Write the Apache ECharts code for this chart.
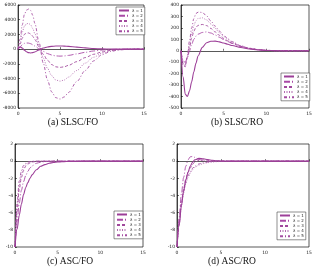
<!DOCTYPE html>
<html>
<head>
<meta charset="utf-8">
<script src="https://cdn.jsdelivr.net/npm/echarts@6/dist/echarts.min.js"></script>
<style>
  html, body { margin: 0; padding: 0; background: #fff; }
  #chart { width: 316px; height: 268px; }
</style>
</head>
<body>
<div id="chart"></div>
<script>
// shared time samples (x axis, 0..15)
const xs = [0, 0.25, 0.5, 0.75, 1, 1.25, 1.5, 1.75, 2, 2.5, 3, 3.5, 4, 4.5, 5, 5.5, 6, 7, 8, 9, 10, 11, 12, 13, 14, 15];

const names = ['λ = 1', 'λ = 2', 'λ = 3', 'λ = 4', 'λ = 5'];
const captions = ['(a) SLSC/FO', '(b) SLSC/RO', '(c) ASC/FO', '(d) ASC/RO'];

// (a) SLSC/FO
const slscFo = [
    [0, 300, 150, -150, -350, -480, -520, -480, -380, -100, 150, 300, 380, 420, 430, 410, 380, 280, 170, 80, 30, 10, 0, 0, 0, 0],
    [0, 300, 600, 780, 840, 820, 740, 600, 420, 50, -300, -600, -800, -920, -950, -920, -850, -650, -430, -250, -120, -50, -15, 0, 0, 0],
    [0, 700, 1500, 2000, 2200, 2200, 2050, 1750, 1300, 300, -700, -1500, -2100, -2400, -2480, -2400, -2200, -1700, -1150, -700, -380, -170, -60, -15, 0, 0],
    [0, 1000, 2300, 3100, 3450, 3500, 3300, 2800, 2100, 500, -1200, -2600, -3600, -4200, -4350, -4200, -3800, -2900, -1900, -1100, -550, -230, -80, -20, 0, 0],
    [0, 1400, 3300, 4700, 5300, 5450, 5250, 4600, 3500, 900, -1900, -4200, -5800, -6600, -6780, -6500, -5900, -4400, -2900, -1600, -750, -320, -110, -30, 0, 0]
];

// (b) SLSC/RO
const slscRo = [
    [0, -230, -380, -400, -350, -270, -185, -110, -45, 30, 70, 83, 84, 78, 68, 57, 46, 28, 15, 7, 3, 1, 0, 0, 0, 0],
    [0, -90, -100, -60, 0, 55, 100, 128, 145, 160, 165, 155, 138, 118, 98, 80, 64, 38, 20, 10, 4, 1, 0, 0, 0, 0],
    [0, -110, -120, -60, 30, 110, 170, 205, 222, 230, 220, 195, 165, 135, 108, 85, 66, 38, 20, 10, 4, 1, 0, 0, 0, 0],
    [0, -120, -130, -50, 60, 150, 220, 262, 282, 288, 270, 235, 195, 158, 125, 97, 75, 42, 22, 11, 4, 1, 0, 0, 0, 0],
    [0, -130, -140, -40, 90, 200, 280, 325, 338, 335, 305, 260, 215, 172, 135, 104, 80, 44, 23, 11, 4, 1, 0, 0, 0, 0]
];

// (c) ASC/FO
const ascFo = [
    [-10, -7.9, -6.3, -5.0, -3.9, -3.1, -2.5, -2.0, -1.6, -1.0, -0.6, -0.4, -0.25, -0.15, -0.1, -0.06, -0.04, -0.02, 0, 0, 0, 0, 0, 0, 0, 0],
    [-10, -7.0, -4.9, -3.4, -2.4, -1.7, -1.2, -0.8, -0.55, -0.25, -0.12, -0.05, -0.02, 0, 0, 0, 0, 0, 0, 0, 0, 0, 0, 0, 0, 0],
    [-10, -5.8, -3.3, -1.9, -1.1, -0.6, -0.35, -0.2, -0.1, -0.03, 0, 0, 0, 0, 0, 0, 0, 0, 0, 0, 0, 0, 0, 0, 0, 0],
    [-10, -5.3, -2.8, -1.5, -0.8, -0.4, -0.2, -0.1, -0.05, 0, 0, 0, 0, 0, 0, 0, 0, 0, 0, 0, 0, 0, 0, 0, 0, 0],
    [-10, -4.8, -2.3, -1.1, -0.5, -0.25, -0.1, -0.05, 0, 0, 0, 0, 0, 0, 0, 0, 0, 0, 0, 0, 0, 0, 0, 0, 0, 0]
];

// (d) ASC/RO
const ascRo = [
    [-10, -7.5, -5.2, -3.5, -2.2, -1.3, -0.6, -0.15, 0.15, 0.32, 0.28, 0.18, 0.1, 0.05, 0.02, 0, 0, 0, 0, 0, 0, 0, 0, 0, 0, 0],
    [-10, -6.5, -3.8, -1.9, -0.6, 0.15, 0.5, 0.55, 0.45, 0.2, 0.05, -0.02, -0.02, 0, 0, 0, 0, 0, 0, 0, 0, 0, 0, 0, 0, 0],
    [-10, -7.0, -4.8, -3.2, -2.1, -1.3, -0.8, -0.4, -0.15, 0.1, 0.15, 0.1, 0.05, 0.02, 0, 0, 0, 0, 0, 0, 0, 0, 0, 0, 0, 0],
    [-10, -7.3, -5.2, -3.7, -2.6, -1.9, -1.4, -1.0, -0.75, -0.45, -0.28, -0.17, -0.1, -0.06, -0.03, -0.01, 0, 0, 0, 0, 0, 0, 0, 0, 0, 0],
    [-10, -7.2, -5.0, -3.5, -2.4, -1.7, -1.2, -0.85, -0.6, -0.32, -0.18, -0.1, -0.05, -0.02, 0, 0, 0, 0, 0, 0, 0, 0, 0, 0, 0, 0]
];

const panels = [slscFo, slscRo, ascFo, ascRo];
const yRanges = [[-8000, 6000, 2000], [-500, 400, 100], [-10, 2, 2], [-10, 2, 2]];

const lineTypes = ['solid', [6, 2, 1, 2], [3, 2], [1, 1.5], [3, 2, 1, 2]];
const lineColors = ['#9c3e98', '#a94aa6', '#a0489c', '#b26cb0', '#a54ea2'];

// layout (pixels)
const grids = [
    { left: 15, top: 5, width: 129, height: 103 },
    { left: 181, top: 5, width: 128, height: 103 },
    { left: 15, top: 144, width: 128, height: 103 },
    { left: 177, top: 144, width: 132, height: 103 }
];
const legendPos = [
    { left: 116, top: 7 },
    { left: 281, top: 73 },
    { left: 114, top: 211 },
    { left: 277, top: 212 }
];
const captionPos = [[73, 122], [237, 122], [70, 261], [232, 261]];

const chart = echarts.init(document.getElementById('chart'), null, { renderer: 'canvas' });

const tinyFont = { fontSize: 4.5, color: '#222', fontFamily: 'DejaVu Sans' };

let series = [];
panels.forEach((panel, p) => {
    panel.forEach((vals, k) => {
        series.push({
            name: names[k],
            type: 'line',
            xAxisIndex: p,
            yAxisIndex: p,
            data: xs.map((x, i) => [x, vals[i]]),
            symbol: 'none',
            smooth: 0.3,
            smoothMonotone: 'x',
            lineStyle: { color: lineColors[k], width: k == 0 ? 1.1 : 0.9, type: lineTypes[k] },
            itemStyle: { color: lineColors[k] },
            z: 5 - k
        });
    });
});

chart.setOption({
    animation: false,
    grid: grids.map((g) => Object.assign({ show: true, borderColor: '#111', borderWidth: 0.7, backgroundColor: 'transparent' }, g)),
    xAxis: grids.map((g, i) => ({
        type: 'value',
        gridIndex: i,
        min: 0, max: 15, interval: 5,
        axisLine: { lineStyle: { color: '#111', width: 0.7 } },
        axisTick: { inside: true, length: 2, lineStyle: { color: '#111', width: 0.6 } },
        axisLabel: Object.assign({ margin: 3 }, tinyFont),
        splitLine: { show: false }
    })),
    yAxis: yRanges.map((r, i) => ({
        type: 'value',
        gridIndex: i,
        min: r[0], max: r[1], interval: r[2],
        axisLine: { show: true, lineStyle: { color: '#111', width: 0.7 } },
        axisTick: { show: true, inside: true, length: 2, lineStyle: { color: '#111', width: 0.6 } },
        axisLabel: Object.assign({ margin: 2, formatter: (v) => String(v) }, tinyFont),
        splitLine: { show: false }
    })),
    legend: legendPos.map((pos) => ({
        data: names,
        left: pos.left,
        top: pos.top,
        orient: 'vertical',
        selectedMode: false,
        backgroundColor: '#fff',
        borderColor: '#444',
        borderWidth: 0.6,
        padding: [1.5, 2],
        itemGap: 1.2,
        itemWidth: 10,
        itemHeight: 4,
        itemStyle: { opacity: 0 },
        textStyle: { fontSize: 4, color: '#222', fontFamily: 'DejaVu Sans', padding: [0, 0, 0, -2] }
    })),
    graphic: captions.map((c, i) => ({
        type: 'text',
        x: captionPos[i][0],
        y: captionPos[i][1],
        style: {
            text: c,
            textAlign: 'center',
            textVerticalAlign: 'middle',
            fontFamily: 'Liberation Serif',
            fontSize: 9.5,
            fill: '#111'
        }
    })),
    series: series
});
</script>
</body>
</html>
